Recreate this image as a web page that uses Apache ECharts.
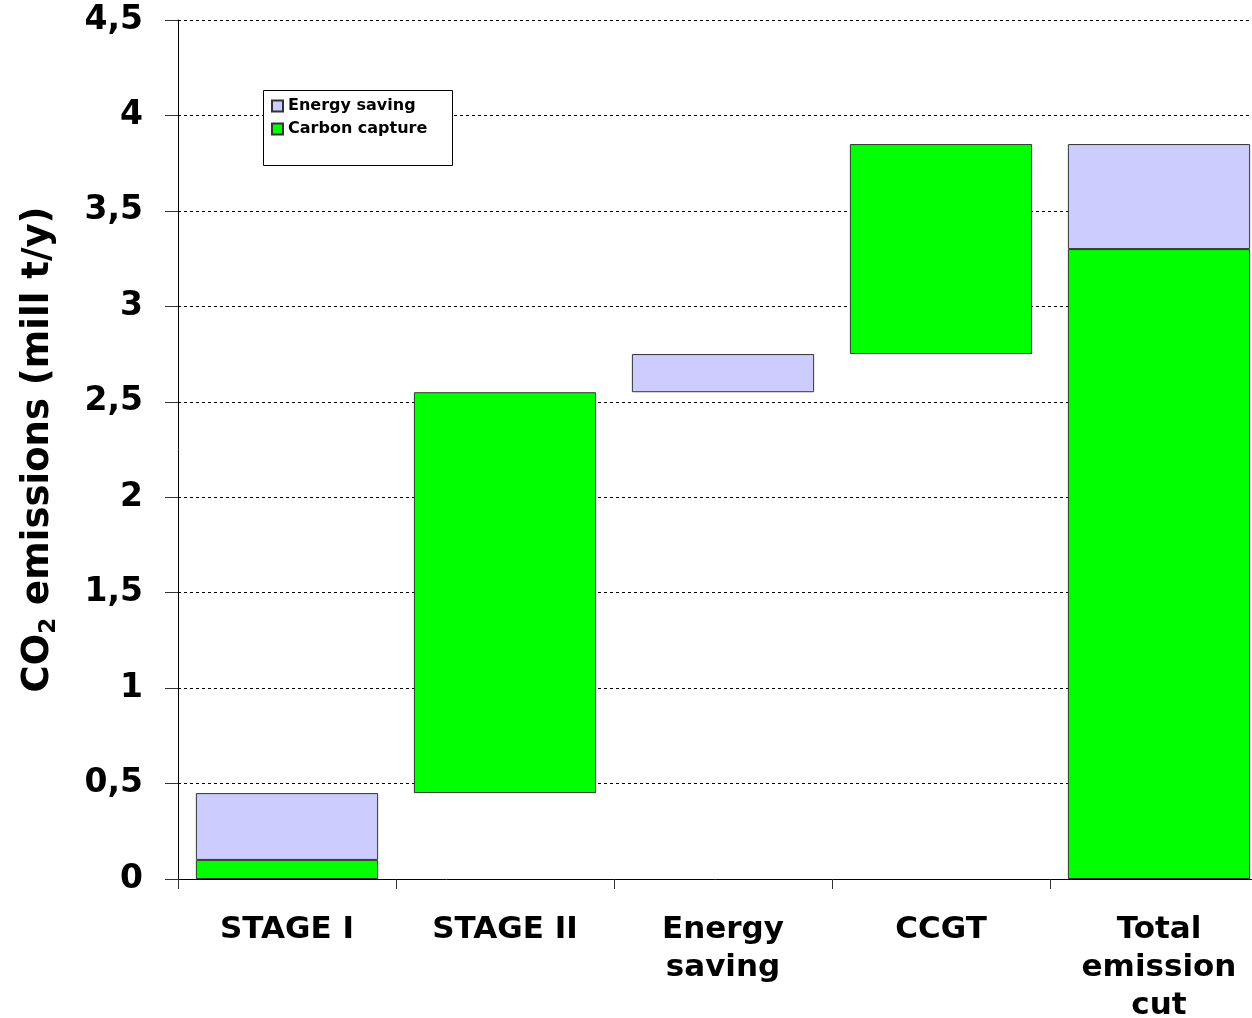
<!DOCTYPE html>
<html>
<head>
<meta charset="utf-8">
<script src="https://cdn.jsdelivr.net/npm/echarts@6/dist/echarts.min.js"></script>
<style>
  html, body { margin: 0; padding: 0; background: #ffffff; overflow: hidden; }
  #chart { width: 1252px; height: 1018px; }
</style>
</head>
<body>
<div id="chart"></div>
<script>
// Waterfall of CO2 emission cuts (mill t/y)
const categories = ['STAGE I', 'STAGE II', 'Energy\nsaving', 'CCGT', 'Total\nemission\ncut'];
// invisible lift under each floating bar
const offsets = [0, 0.45, 2.55, 2.75, 0];
const carbonCapture = [0.1, 2.1, '-', 1.1, 3.3];
const energySaving = [0.35, '-', 0.2, '-', 0.55];
const legendNames = ['Energy saving', 'Carbon capture'];

const FONT = 'DejaVu Sans';
const chart = echarts.init(document.getElementById('chart'), null, { renderer: 'canvas' });

chart.setOption({
  backgroundColor: '#ffffff',
  animation: false,
  textStyle: { fontFamily: FONT },
  // the plot runs a little past the right edge of the page
  grid: { left: 178, right: -16, top: 20, bottom: 139, containLabel: false, outerBoundsMode: 'none' },
  graphic: [{
    type: 'rect',
    left: 263, top: 90,
    shape: { width: 189, height: 75 },
    style: { fill: '#ffffff', stroke: '#000000', lineWidth: 1 },
    z: 5
  }],
  legend: {
    data: legendNames,
    orient: 'vertical',
    left: 266, top: 93,
    itemWidth: 11, itemHeight: 11,
    itemGap: 7,
    icon: 'rect',
    z: 10,
    textStyle: { fontFamily: FONT, fontWeight: 'bold', fontSize: 16, color: '#000000' },
    selectedMode: false
  },
  xAxis: {
    type: 'category',
    data: categories,
    boundaryGap: true,
    axisLine: { show: true, lineStyle: { color: '#000000', width: 1 } },
    axisTick: { show: true, length: 10, lineStyle: { color: '#333333' } },
    axisLabel: {
      margin: 32, fontSize: 31, lineHeight: 38, fontWeight: 'bold',
      color: '#000000', fontFamily: FONT, interval: 0
    },
    splitLine: { show: false }
  },
  yAxis: {
    type: 'value',
    min: 0, max: 4.5, interval: 0.5,
    axisLine: { show: true, lineStyle: { color: '#000000', width: 1 } },
    axisTick: { show: true, length: 13, lineStyle: { color: '#333333' } },
    axisLabel: {
      margin: 35, fontSize: 33, fontWeight: 'bold', color: '#000000', fontFamily: FONT,
      padding: [10, 0, 0, 0],
      formatter: v => String(v).replace('.', ',')
    },
    splitLine: { show: true, lineStyle: { color: '#000000', width: 1, type: [3, 3] } },
    name: 'CO{s|2} emissions (mill t/y)',
    nameLocation: 'middle',
    nameRotate: 90,
    nameGap: 121,
    nameTextStyle: {
      fontSize: 37, fontWeight: 'bold', color: '#000000', fontFamily: FONT,
      rich: { s: { fontSize: 23, fontWeight: 'bold', fontFamily: FONT, verticalAlign: 'bottom', padding: [0, 0, -4, 0] } }
    }
  },
  series: [
    {
      name: 'offset',
      type: 'bar',
      stack: 'cut',
      data: offsets,
      barWidth: '83.6%',
      silent: true,
      itemStyle: { color: 'rgba(0,0,0,0)', borderWidth: 0 },
      emphasis: { disabled: true }
    },
    {
      name: 'Carbon capture',
      type: 'bar',
      stack: 'cut',
      data: carbonCapture,
      barWidth: '83.6%',
      itemStyle: { color: '#00ff00', borderColor: '#333333', borderWidth: 1 },
      emphasis: { disabled: true }
    },
    {
      name: 'Energy saving',
      type: 'bar',
      stack: 'cut',
      data: energySaving,
      barWidth: '83.6%',
      itemStyle: { color: '#ccccff', borderColor: '#333333', borderWidth: 1 },
      emphasis: { disabled: true }
    }
  ]
});
</script>
</body>
</html>
